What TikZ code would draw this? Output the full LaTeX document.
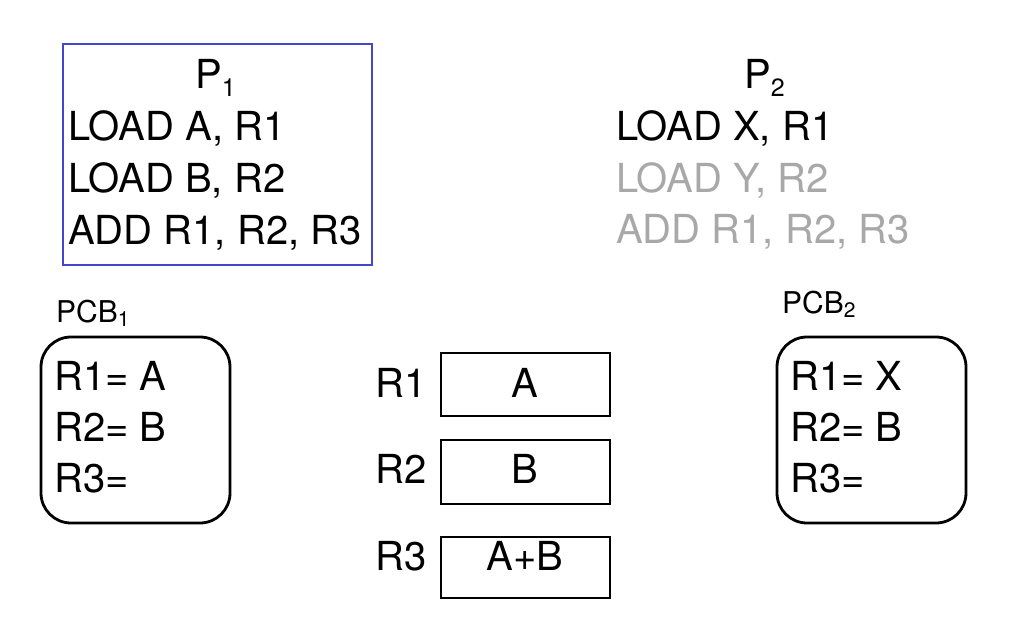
\documentclass[tikz,border=0pt]{standalone}
\usepackage{fontspec}
\setmainfont{TeX Gyre Heros}
\definecolor{boxblue}{RGB}{70,70,205}
\definecolor{fadegrey}{RGB}{168,168,168}
\begin{document}
\begin{tikzpicture}[x=1pt,y=-1pt,
  big/.style={font=\fontsize{40}{48}\selectfont, inner sep=0pt, anchor=base west},
  small/.style={font=\fontsize{30}{36}\selectfont, inner sep=0pt, anchor=base west},
  cbig/.style={font=\fontsize{40}{48}\selectfont, inner sep=0pt, anchor=base},
  faded/.style={text=fadegrey},
  pcbbox/.style={draw=black, line width=2.8pt, rounded corners=30pt},
  regbox/.style={draw=black, line width=2.8pt},
  progbox/.style={draw=boxblue, line width=1.6pt}
]
\useasboundingbox (0,0) rectangle (1028,633);
\newcommand{\bigsub}[1]{{\fontsize{25}{25}\selectfont\raisebox{-8pt}{#1}}}
\newcommand{\smallsub}[1]{{\fontsize{21}{21}\selectfont\raisebox{-4pt}{#1}}}

% P1 program box
\draw[progbox] (63,44) rectangle (372,265);
\node[big] (p1) at (195,88) {P\bigsub{1}};
\node[big] (p1a) at (68,140) {LOAD A, R1};
\node[big] (p1b) at (68,192) {LOAD B, R2};
\node[big] (p1c) at (68,244) {ADD R1, R2, R3};

% P2 program
\node[big] (p2) at (744,88) {P\bigsub{2}};
\node[big] (p2a) at (616,140) {LOAD X, R1};
\node[big,faded] (p2b) at (616,192) {LOAD Y, R2};
\node[big,faded] (p2c) at (616,243) {ADD R1, R2, R3};

% PCB1
\node[small] (pcb1) at (56,322) {PCB\smallsub{1}};
\draw[pcbbox] (41,337) rectangle (230,523);
\node[big] (c1a) at (54,390) {R1= A};
\node[big] (c1b) at (54,441) {R2= B};
\node[big] (c1c) at (54,492) {R3=};

% PCB2
\node[small] (pcb2) at (782,313) {PCB\smallsub{2}};
\draw[pcbbox] (777,337) rectangle (966,523);
\node[big] (c2a) at (790,390) {R1= X};
\node[big] (c2b) at (790,441) {R2= B};
\node[big] (c2c) at (790,492) {R3=};

% Registers
\node[big] (r1l) at (375,397) {R1};
\draw[regbox] (441,353) rectangle (610,416);
\node[cbig] (r1v) at (525,397) {A};
\node[big] (r2l) at (375,483) {R2};
\draw[regbox] (441,440) rectangle (610,504);
\node[cbig] (r2v) at (525,483) {B};
\node[big] (r3l) at (375,570) {R3};
\draw[regbox] (441,537) rectangle (610,598);
\node[cbig] (r3v) at (525,570) {A+B};
\end{tikzpicture}
\end{document}
